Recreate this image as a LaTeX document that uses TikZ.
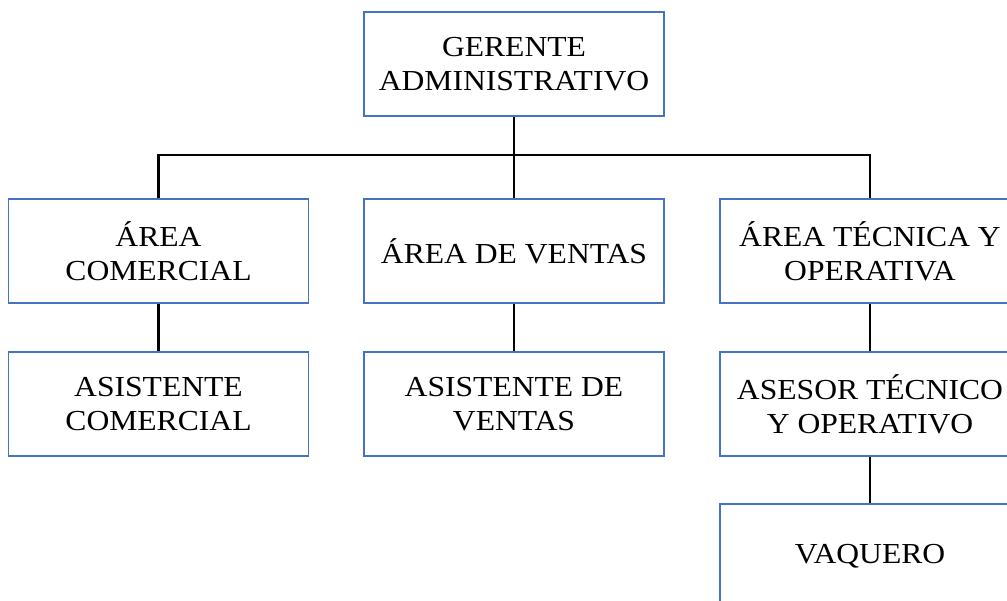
\documentclass[tikz,border=0pt]{standalone}
\usepackage{fontspec}
\setmainfont{Liberation Serif}[FakeStretch=1.09]
\usepackage{xcolor}
\definecolor{bordeazul}{RGB}{68,114,196}

\begin{document}
\begin{tikzpicture}[x=1pt, y=-1pt,
  caja/.style={draw=bordeazul, line width=1.6pt, fill=white, minimum width=300pt,
    minimum height=104pt, align=center, inner sep=0pt,
    font=\fontsize{29}{34}\selectfont},
  enlace/.style={draw=black, line width=2.8pt}]

\clip (0,0) rectangle (1007,601);
\fill[white] (0,0) rectangle (1007,601);

% nivel superior
\node[caja] (ger) at (514,64) {GERENTE\\ADMINISTRATIVO};

% areas
\node[caja] (acom) at (158.5,251) {ÁREA\\COMERCIAL};
\node[caja] (aven) at (514,251) {ÁREA DE VENTAS};
\node[caja] (atec) at (870,251) {ÁREA TÉCNICA Y\\OPERATIVA};

% asistentes
\node[caja] (scom) at (158.5,404) {ASISTENTE\\COMERCIAL};
\node[caja] (sven) at (514,404) {ASISTENTE DE\\VENTAS};
\node[caja] (stec) at (870,404) {ASESOR TÉCNICO\\Y OPERATIVO};

\node[caja] (vaq) at (870,556) {VAQUERO};

\coordinate (bus) at (514,155);

\draw[enlace] (ger.south) -- (aven.north);
\draw[enlace] (acom.north) |- (bus) -| (atec.north);

\draw[enlace] (acom.south) -- (scom.north);
\draw[enlace] (aven.south) -- (sven.north);
\draw[enlace] (atec.south) -- (stec.north);
\draw[enlace] (stec.south) -- (vaq.north);

\end{tikzpicture}
\end{document}
